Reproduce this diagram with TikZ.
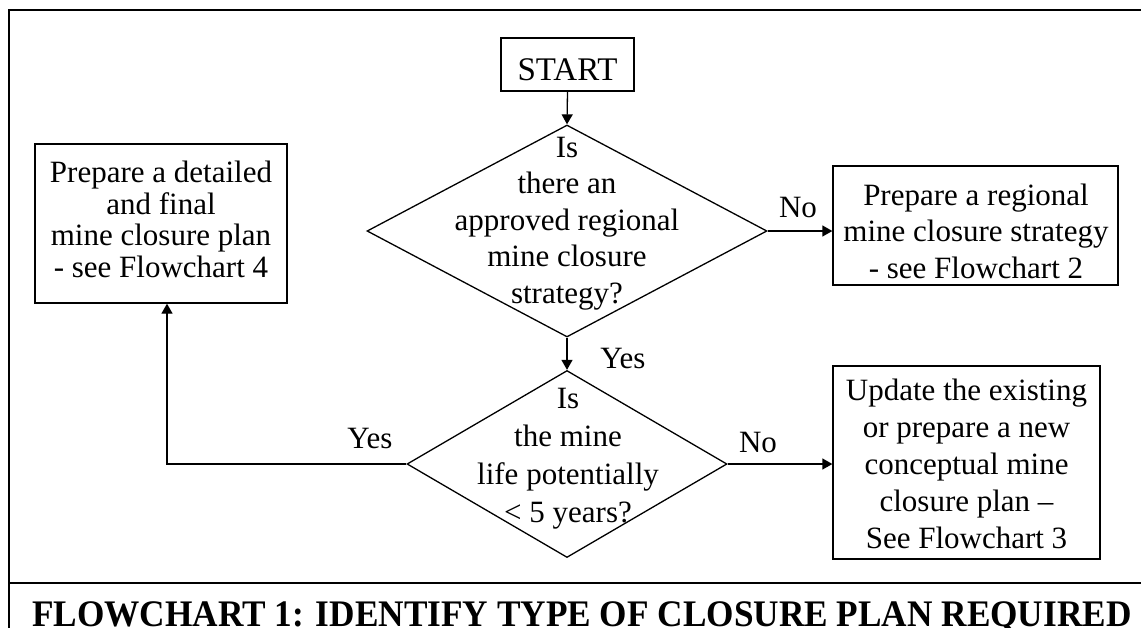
\documentclass[tikz,border=0pt]{standalone}
\usepackage{fontspec}
\setmainfont{Liberation Serif}
\usetikzlibrary{shapes.geometric,arrows.meta}
\begin{document}
\begin{tikzpicture}[x=1pt,y=-1pt,
  frame/.style={line width=2pt},
  box/.style={draw,line width=1.3pt,inner sep=0pt},
  dia/.style={draw,diamond,line width=1.3pt,inner sep=0pt},
  txt/.style={align=center,inner sep=0pt,anchor=base},
  lbl/.style={font=\fontsize{31}{37}\selectfont,inner sep=0pt,anchor=base},
  arr/.style={line width=1.3pt,-{Triangle[length=10pt,width=11pt]}},
]
\useasboundingbox (0,0) rectangle (1141,627);
\clip (0,0) rectangle (1141,627);
% outer frame
\draw[frame] (1160,10) -- (9,10) -- (9,640);
\draw[line width=1.6pt] (9,583) -- (1160,583);

% boxes and diamonds
\node[box,minimum width=133pt,minimum height=53pt] (start) at (567.5,64.5) {};
\node[dia,minimum width=400pt,minimum height=212pt] (d1) at (567,231) {};
\node[dia,minimum width=320pt,minimum height=187pt] (d2) at (567,464) {};
\node[box,minimum width=252pt,minimum height=159pt] (lb) at (161,223.5) {};
\node[box,minimum width=285pt,minimum height=119pt] (rb1) at (975.5,225.5) {};
\node[box,minimum width=267pt,minimum height=193pt] (rb2) at (966.5,462.5) {};

% texts (anchor = baseline of the last line)
\node[txt,font=\fontsize{33}{38}\selectfont] (tstart) at (567.5,80) {START};
\node[txt,font=\fontsize{31}{36.5}\selectfont] (td1) at (567,303) {Is\\there an\\approved regional\\mine closure\\strategy?};
\node[txt,font=\fontsize{31}{38}\selectfont] (td2) at (568,522) {Is\\the mine\\life potentially\\< 5 years?};
\node[txt,font=\fontsize{31}{31.5}\selectfont] (tlb) at (161,277) {Prepare a detailed\\and final\\ mine closure plan\\ - see Flowchart 4};
\node[txt,font=\fontsize{31}{36.5}\selectfont] (trb1) at (976,278) {Prepare a regional\\mine closure strategy\\- see Flowchart 2};
\node[txt,font=\fontsize{31}{37}\selectfont] (trb2) at (966.5,548) {Update the existing\\or prepare a new\\conceptual mine\\closure plan --\\See Flowchart 3};

% labels
\node[lbl] (no1) at (798,217) {No};
\node[lbl] (yes1) at (623,368) {Yes};
\node[lbl] (yes2) at (370,448) {Yes};
\node[lbl] (no2) at (758,452) {No};

% title
\node[inner sep=0pt,anchor=base west,font=\fontsize{37.5}{40}\selectfont\bfseries] (title) at (32,626) {\scalebox{0.94}[1]{FLOWCHART 1: IDENTIFY TYPE OF CLOSURE PLAN REQUIRED}};

% connectors
\coordinate (corner) at (167,464);
\draw[arr] (start.south) -- (d1.north);
\draw[arr] (d1.south) -- (d2.north);
\draw[arr] (d1.east) -- (d1.east -| rb1.west);
\draw[arr] (d2.east) -- (d2.east -| rb2.west);
\draw[arr] (d2.west) -- (corner) -- (corner |- lb.south);
\end{tikzpicture}
\end{document}
